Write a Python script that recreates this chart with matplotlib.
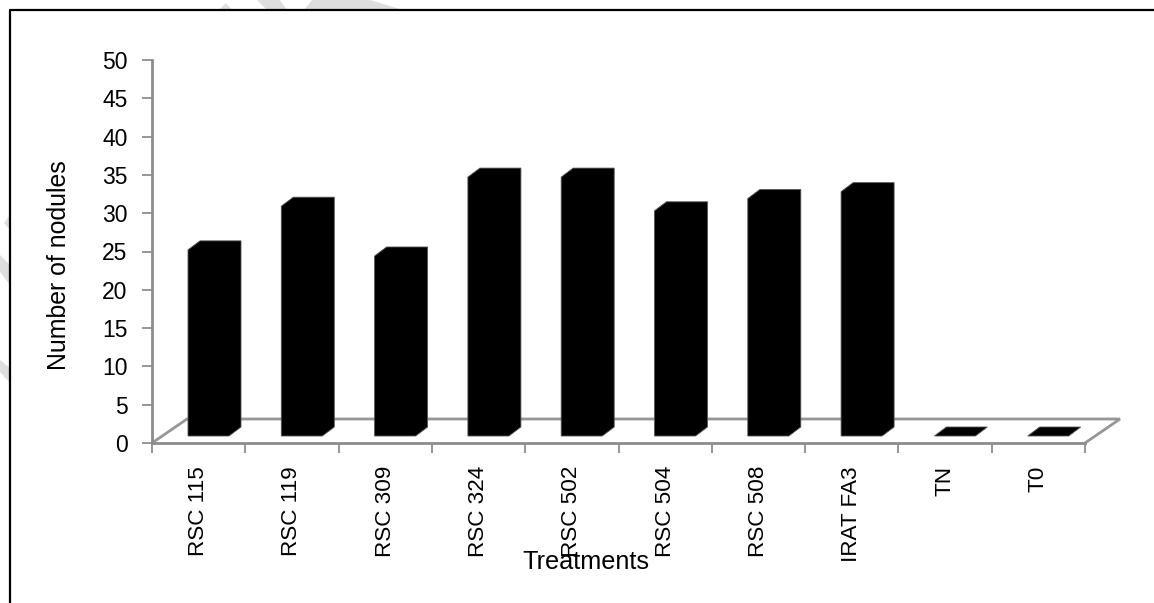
import matplotlib
matplotlib.use('Agg')
import matplotlib.pyplot as plt
from matplotlib.patches import Polygon

plt.rcParams['font.family'] = ['Liberation Sans', 'DejaVu Sans']

# values
treatments = ['RSC 115', 'RSC 119', 'RSC 309', 'RSC 324', 'RSC 502',
              'RSC 504', 'RSC 508', 'IRAT FA3', 'TN', 'T0']
nodules = [24.3, 30.0, 23.5, 33.8, 33.8, 29.4, 31.0, 31.9, 0, 0]
yticks = [0, 5, 10, 15, 20, 25, 30, 35, 40, 45, 50]

W, H = 1154, 603
fig = plt.figure(figsize=(W / 100, H / 100), dpi=100)

# background layer: watermark scraps outside the frame, and the frame itself
frame = fig.add_axes([0, 0, 1, 1])
frame.set_xlim(0, W)
frame.set_ylim(H, 0)
frame.axis('off')
scraps = [
    [(219, 10), (226, 3), (232, 10)],
    [(257, 0), (280, 0), (287, 10), (267, 10)],
    [(304, 10), (312, 0), (370, 0), (403, 10)],
    [(4, 223), (10, 215), (10, 230)],
    [(0, 255), (10, 265), (10, 285), (0, 272)],
    [(0, 360), (10, 368), (10, 383), (0, 372)],
]
for s in scraps:
    frame.add_patch(Polygon(s, closed=True, facecolor='#dedede', edgecolor='none'))
frame.plot([10, 10, 1154], [603, 10, 10], color='black', lw=1.6)

ax = fig.add_axes([152 / W, 1 - 443 / H, 933 / W, 383 / H])
ax.patch.set_alpha(0)
ax.set_xlim(0, 10)
ax.set_ylim(0, 50)

# fake 3d depth, in data units
floor_dx = 35 / 93.3
floor_dy = 24 / 7.66
bar_dx = 12 / 93.3
bar_dy = 9 / 7.66
bar_left = 36 / 93.3
bar_w = 41 / 93.3
bar_base = 7 / 7.66

# floor
ax.plot([0, floor_dx, 10 + floor_dx, 10], [0, floor_dy, floor_dy, 0],
        color='#969696', lw=2, clip_on=False, solid_joinstyle='miter')

for i, v in enumerate(nodules):
    x0 = i + bar_left
    x1 = x0 + bar_w
    top = bar_base + v
    pts = [(x0, bar_base), (x0, top), (x0 + bar_dx, top + bar_dy),
           (x1 + bar_dx, top + bar_dy), (x1 + bar_dx, bar_base + bar_dy),
           (x1, bar_base)]
    ax.add_patch(Polygon(pts, closed=True, facecolor='black', edgecolor='#555555',
                         lw=0.6, clip_on=False, zorder=3))

for s in ['top', 'right']:
    ax.spines[s].set_visible(False)
for s in ['left', 'bottom']:
    ax.spines[s].set_color('#8c8c8c')
    ax.spines[s].set_linewidth(2)

ax.set_yticks(yticks)
ax.set_xticks(range(11))
ax.set_xticks([i + 0.5 for i in range(10)], minor=True)
ax.set_xticklabels([''] * 11)
ax.set_xticklabels(treatments, minor=True, rotation=90, fontsize=16.2, color='black')
ax.tick_params(axis='x', which='major', length=7, width=1.4, color='#969696')
ax.tick_params(axis='x', which='minor', length=0, pad=16.5)
ax.tick_params(axis='y', length=7, width=1.4, color='#969696', labelsize=16.5,
               labelcolor='black', pad=10.5)

ax.text(-1.0, 23.2, 'Number of nodules', rotation=90, fontsize=17.9, ha='center',
        va='center', color='black')
ax.text(4.65, -15.5, 'Treatments', fontsize=18.2, ha='center', va='center', color='black')

fig.savefig('out.png', dpi=100)
